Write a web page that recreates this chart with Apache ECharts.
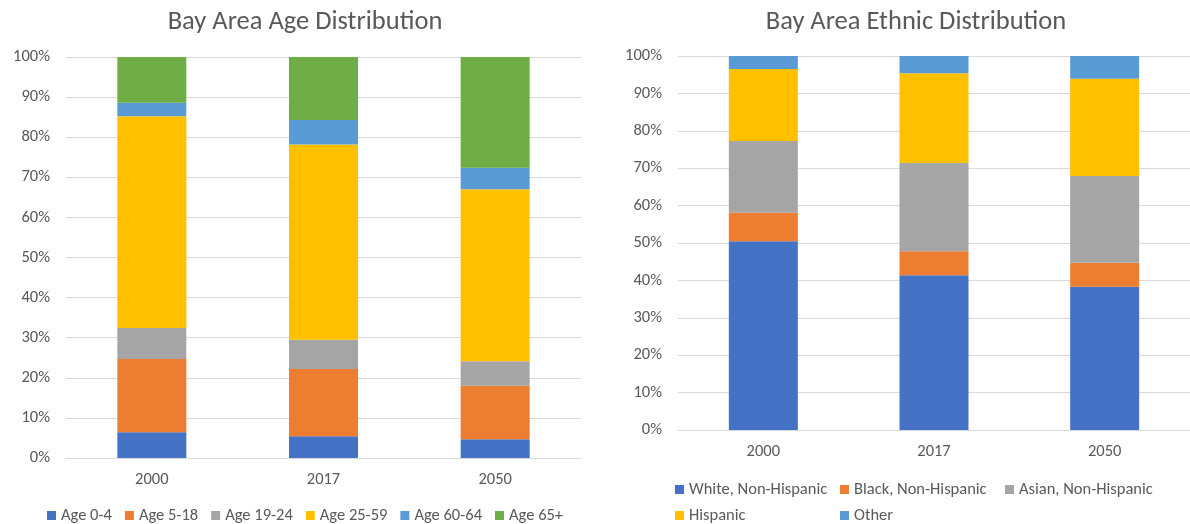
<!DOCTYPE html>
<html>
<head>
<meta charset="utf-8">
<script src="https://cdn.jsdelivr.net/npm/echarts@6/dist/echarts.min.js"></script>
<style>
  html, body { margin: 0; padding: 0; background: #fff; }
  #chart { width: 1190px; height: 524px; }
</style>
</head>
<body>
<div id="chart"></div>
<script>
// data
const years = ['2000', '2017', '2050'];

const ageGroups = ['Age 0-4', 'Age 5-18', 'Age 19-24', 'Age 25-59', 'Age 60-64', 'Age 65+'];
const age0_4   = [6.4, 5.4, 4.7];
const age5_18  = [18.3, 16.8, 13.3];
const age19_24 = [7.7, 7.3, 6.1];
const age25_59 = [52.8, 48.7, 42.9];
const age60_64 = [3.4, 6.1, 5.4];
const age65    = [11.4, 15.7, 27.6];

const ethnicGroups = ['White, Non-Hispanic', 'Black, Non-Hispanic', 'Asian, Non-Hispanic', 'Hispanic', 'Other'];
const white    = [50.5, 41.4, 38.3];
const black    = [7.6, 6.4, 6.4];
const asian    = [19.2, 23.6, 23.2];
const hispanic = [19.2, 24.0, 26.0];
const other    = [3.5, 4.6, 6.1];

const yTicks = [0, 10, 20, 30, 40, 50, 60, 70, 80, 90, 100];

const colors = ['#4472C4', '#ED7D31', '#A5A5A5', '#FFC000', '#5B9BD5', '#70AD47'];
const font = 'Carlito, Calibri, "Liberation Sans Narrow", "Noto Sans", sans-serif';
const textColor = '#595959';

const chart = echarts.init(document.getElementById('chart'));

function makeXAxis(gridIndex) {
    return {
        type: 'category', gridIndex, data: years,
        axisLine: { lineStyle: { color: '#d9d9d9' } },
        axisTick: { show: false },
        axisLabel: { color: textColor, fontSize: 16.5, fontFamily: font, margin: 13 }
    };
}
function makeYAxis(gridIndex) {
    return {
        type: 'value', gridIndex, min: yTicks[0], max: yTicks[yTicks.length - 1], interval: 10,
        axisLine: { show: false }, axisTick: { show: false },
        splitLine: { lineStyle: { color: '#d9d9d9' } },
        axisLabel: { color: textColor, fontSize: 16.5, fontFamily: font, margin: 16, formatter: '{value}%' }
    };
}

const ageData = [age0_4, age5_18, age19_24, age25_59, age60_64, age65];
const ethData = [white, black, asian, hispanic, other];

const series = [];
ageGroups.forEach((name, i) => {
    series.push({
        name, type: 'bar', stack: 'age', xAxisIndex: 0, yAxisIndex: 0,
        barWidth: 69, data: ageData[i], itemStyle: { color: colors[i] }
    });
});
const ethColors = ['#4472C4', '#ED7D31', '#A5A5A5', '#FFC000', '#5B9BD5'];
ethnicGroups.forEach((name, i) => {
    series.push({
        name, type: 'bar', stack: 'eth', xAxisIndex: 1, yAxisIndex: 1,
        barWidth: 69, data: ethData[i], itemStyle: { color: ethColors[i] }
    });
});

const legendBase = {
    icon: 'rect', itemWidth: 9, itemHeight: 9, itemGap: 13,
    textStyle: { color: textColor, fontSize: 16.5, fontFamily: font }
};

chart.setOption({
    animation: false,
    title: [
        { text: 'Bay Area Age Distribution', left: 300, top: 4, textAlign: 'center',
          textStyle: { color: textColor, fontSize: 26.5, fontWeight: 'normal', fontFamily: font } },
        { text: 'Bay Area Ethnic Distribution', left: 911, top: 4, textAlign: 'center',
          textStyle: { color: textColor, fontSize: 26.5, fontWeight: 'normal', fontFamily: font } }
    ],
    legend: [
        Object.assign({}, legendBase, { data: ageGroups, left: 42, top: 502 }),
        Object.assign({}, legendBase, { data: ethnicGroups.slice(0, 1), left: 670, top: 476 }),
        Object.assign({}, legendBase, { data: ethnicGroups.slice(1, 2), left: 835, top: 476 }),
        Object.assign({}, legendBase, { data: ethnicGroups.slice(2, 3), left: 1000, top: 476 }),
        Object.assign({}, legendBase, { data: ethnicGroups.slice(3, 4), left: 670, top: 502 }),
        Object.assign({}, legendBase, { data: ethnicGroups.slice(4, 5), left: 835, top: 502 })
    ],
    grid: [
        { left: 66, width: 515, top: 57, bottom: 66 },
        { left: 678, width: 515, top: 56, bottom: 94 }
    ],
    xAxis: [makeXAxis(0), makeXAxis(1)],
    yAxis: [makeYAxis(0), makeYAxis(1)],
    series
});

window.addEventListener('resize', () => chart.resize());
</script>
</body>
</html>
